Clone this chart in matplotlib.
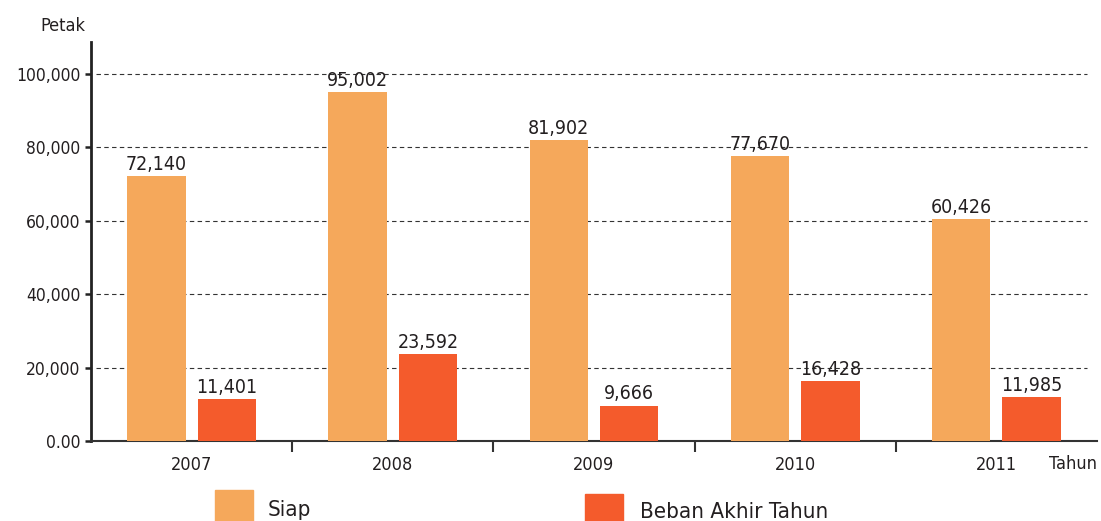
import matplotlib.pyplot as plt
from matplotlib.patches import Rectangle
from matplotlib.ticker import FixedLocator

plt.rcParams['font.family'] = ['DejaVu Sans']
plt.rcParams['font.stretch'] = 'condensed'

# data
years = ["2007", "2008", "2009", "2010", "2011"]
siap = [72140, 95002, 81902, 77670, 60426]
beban = [11401, 23592, 9666, 16428, 11985]
yticks = [0, 20000, 40000, 60000, 80000, 100000]
ytick_labels = ["0.00", "20,000", "40,000", "60,000", "80,000", "100,000"]

c_siap = "#F5A85B"
c_beban = "#F45B2C"
txt = "#231F20"

fig = plt.figure(figsize=(11.01, 5.21), dpi=100)
ax = fig.add_axes([91 / 1101, 80 / 521, 1006 / 1101, 399 / 521])

x = list(range(len(years)))
w = 0.29
off = 0.175
b1 = ax.bar([i - off for i in x], siap, width=w, color=c_siap, zorder=3)
b2 = ax.bar([i + off for i in x], beban, width=w, color=c_beban, zorder=3)

for bars, vals in ((b1, siap), (b2, beban)):
    for r, v in zip(bars, vals):
        ax.text(r.get_x() + r.get_width() / 2, v + 600, f"{v:,}",
                ha="center", va="bottom", fontsize=14, color=txt)

ax.set_xlim(-0.5, 4.5)
ax.set_ylim(0, 108720)

ax.set_yticks(yticks)
ax.set_yticklabels(ytick_labels, fontsize=12.5, color=txt)
for yv in yticks[1:]:
    ax.axhline(yv, xmin=0.005, xmax=0.99, color="#333333", lw=0.8,
               ls=(0, (4, 3)), zorder=1)

ax.set_xticks(x)
ax.set_xticklabels(years, fontsize=13, color=txt)
ax.tick_params(axis="x", which="major", length=0, pad=11)
ax.xaxis.set_minor_locator(FixedLocator([0.5, 1.5, 2.5, 3.5]))
ax.tick_params(axis="x", which="minor", length=8, width=1.5, color="#333333",
               direction="out")
ax.tick_params(axis="y", length=4.5, width=1.8, color="#222222", pad=3)

for s in ("top", "right"):
    ax.spines[s].set_visible(False)
ax.spines["left"].set_linewidth(2)
ax.spines["left"].set_color("#222222")
ax.spines["bottom"].set_linewidth(1.5)
ax.spines["bottom"].set_color("#333333")

fig.text(40 / 1101, 1 - 26 / 521, "Petak", fontsize=13, color=txt,
         va="center", ha="left")
fig.text(1097 / 1101, 1 - 464 / 521, "Tahun", fontsize=13, color=txt,
         va="center", ha="right")

# legend drawn by hand
fig.patches.append(Rectangle((215 / 1101, 0), 38 / 1101, 31 / 521,
                             transform=fig.transFigure, color=c_siap))
fig.text(268 / 1101, 1 - 510 / 521, "Siap", fontsize=16, color=txt,
         va="center")
fig.patches.append(Rectangle((585 / 1101, 0), 38 / 1101, 27 / 521,
                             transform=fig.transFigure, color=c_beban))
fig.text(640 / 1101, 1 - 512 / 521, "Beban Akhir Tahun", fontsize=16,
         color=txt, va="center")

fig.savefig("out.png", dpi=100)
